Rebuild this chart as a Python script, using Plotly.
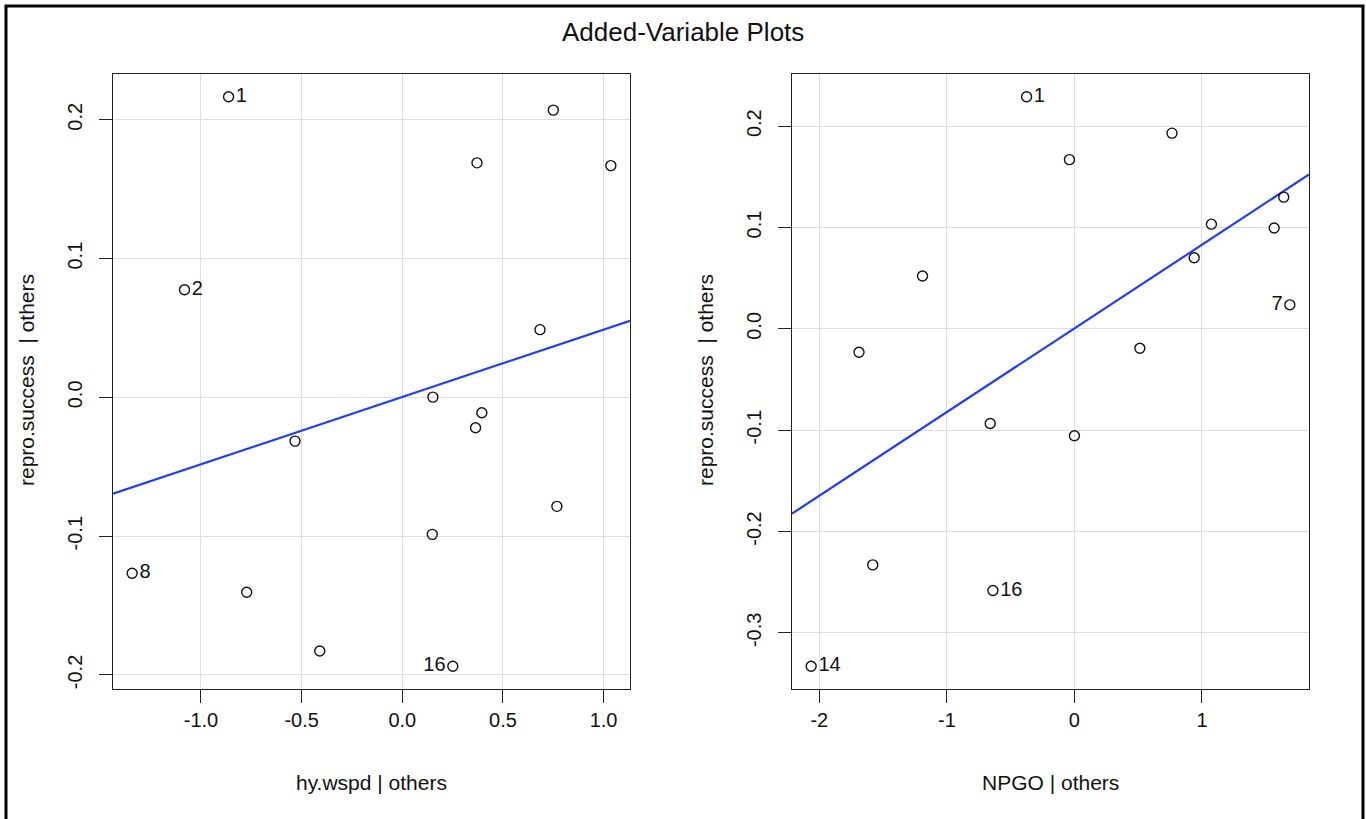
import numpy as np
import plotly.graph_objects as go

# ---------------- data ----------------
# Left panel: hy.wspd | others  vs  repro.success | others
hy_wspd_resid = [-0.863, -1.082, -1.342, 0.750, 0.371, 1.036, 0.684, 0.152,
                 0.395, 0.364, -0.533, 0.768, 0.149, -0.773, -0.410, 0.251]
repro_resid_left = [0.2166, 0.0776, -0.1267, 0.207, 0.169, 0.167, 0.0488, 0.0002,
                    -0.0111, -0.0219, -0.0315, -0.0785, -0.0987, -0.1404, -0.1827, -0.1937]
labels_left = ["1", "2", "8", "", "", "", "", "", "", "", "", "", "", "", "", "16"]

# Right panel: NPGO | others  vs  repro.success | others
npgo_resid = [-0.375, 0.765, -0.039, 1.641, 1.074, 1.566, 0.939, -1.191,
              1.689, -1.689, 0.513, -0.660, 0.000, -1.581, -0.639, -2.064]
repro_resid_right = [0.229, 0.1931, 0.167, 0.130, 0.1033, 0.0995, 0.0702, 0.0522,
                     0.0237, -0.0231, -0.0191, -0.0934, -0.1055, -0.2329, -0.2582, -0.3329]
labels_right = ["1", "", "", "", "", "", "", "", "7", "", "", "", "", "", "16", "14"]

# tick values / labels
left_xticks = [-1.0, -0.5, 0.0, 0.5, 1.0]
left_xticktext = ["-1.0", "-0.5", "0.0", "0.5", "1.0"]
left_yticks = [-0.2, -0.1, 0.0, 0.1, 0.2]
left_yticktext = ["-0.2", "-0.1", "0.0", "0.1", "0.2"]
right_xticks = [-2, -1, 0, 1]
right_xticktext = ["-2", "-1", "0", "1"]
right_yticks = [-0.3, -0.2, -0.1, 0.0, 0.1, 0.2]
right_yticktext = ["-0.3", "-0.2", "-0.1", "0.0", "0.1", "0.2"]

title_text = "Added-Variable Plots"
xlab_left = "hy.wspd | others"
xlab_right = "NPGO | others"
ylab = "repro.success  | others"

# label sides (style)
side_left = {"1": "middle right", "2": "middle right", "8": "middle right", "16": "middle left"}
side_right = {"1": "middle right", "7": "middle left", "16": "middle right", "14": "middle right"}

# ---------------- helpers ----------------
W, H = 1366, 819
FONT = "Liberation Sans, Arial, Helvetica, sans-serif"
TICK_FS = 20
LAB_FS = 21


def r_range(v):
    v = np.asarray(v, dtype=float)
    lo, hi = v.min(), v.max()
    d = (hi - lo) * 0.04
    return [lo - d, hi + d]


def px_x(p):
    return p / W


def px_y(p):
    return 1 - p / H


fig = go.Figure()

panels = [
    (hy_wspd_resid, repro_resid_left, labels_left, side_left, "x", "y"),
    (npgo_resid, repro_resid_right, labels_right, side_right, "x2", "y2"),
]

for xs, ys, labs, sides, xa, ya in panels:
    xr = r_range(xs)
    # least-squares line (as in the added-variable plot)
    slope, intercept = np.polyfit(xs, ys, 1)
    lx = np.array(xr)
    fig.add_trace(go.Scatter(
        x=lx, y=slope * lx + intercept, mode="lines",
        line=dict(color="#1e3cff", width=2.2),
        xaxis=xa, yaxis=ya, hoverinfo="skip", showlegend=False))
    fig.add_trace(go.Scatter(
        x=xs, y=ys, mode="markers+text",
        text=labs,
        textposition=[sides.get(l, "middle right") for l in labs],
        textfont=dict(family=FONT, size=TICK_FS, color="#111"),
        marker=dict(symbol="circle-open", size=10, color="#111",
                    line=dict(width=1.4, color="#111")),
        xaxis=xa, yaxis=ya, showlegend=False, cliponaxis=False))

ax_common = dict(
    showline=True, linecolor="#222", linewidth=1.4, mirror=True,
    ticks="outside", ticklen=13, tickwidth=1.2, tickcolor="#222",
    showgrid=True, gridcolor="#dedede", gridwidth=1,
    zeroline=False,
    tickfont=dict(family=FONT, size=TICK_FS, color="#111"),
    tickmode="array",
)

ydom = [px_y(689), px_y(74)]

fig.update_layout(
    width=W, height=H,
    margin=dict(l=0, r=0, t=0, b=0),
    paper_bgcolor="white", plot_bgcolor="white",
    showlegend=False,
    xaxis=dict(domain=[px_x(113), px_x(630)], anchor="y",
               range=r_range(hy_wspd_resid),
               tickvals=left_xticks, ticktext=left_xticktext, **ax_common),
    yaxis=dict(domain=ydom, anchor="x",
               range=r_range(repro_resid_left),
               tickvals=left_yticks, ticktext=left_yticktext,
               tickangle=-90, ticklabelstandoff=9, **ax_common),
    xaxis2=dict(domain=[px_x(792), px_x(1309)], anchor="y2",
                range=r_range(npgo_resid),
                tickvals=right_xticks, ticktext=right_xticktext, **ax_common),
    yaxis2=dict(domain=ydom, anchor="x2",
                range=r_range(repro_resid_right),
                tickvals=right_yticks, ticktext=right_yticktext,
                tickangle=-90, ticklabelstandoff=9, **ax_common),
)

ann = [
    dict(text=title_text, x=0.5, y=px_y(32), font=dict(size=26)),
    dict(text=xlab_left, x=px_x((113 + 630) / 2), y=px_y(782), font=dict(size=LAB_FS)),
    dict(text=xlab_right, x=px_x((792 + 1309) / 2), y=px_y(782), font=dict(size=LAB_FS)),
    dict(text=ylab, x=px_x(26), y=px_y(380), textangle=-90, font=dict(size=LAB_FS)),
    dict(text=ylab, x=px_x(705), y=px_y(380), textangle=-90, font=dict(size=LAB_FS)),
]
for a in ann:
    a["font"].update(family=FONT, color="#111")
    fig.add_annotation(xref="paper", yref="paper", showarrow=False,
                       xanchor="center", yanchor="middle", **a)

# outer frame
fig.add_shape(type="rect", xref="paper", yref="paper",
              x0=px_x(6), x1=px_x(1363), y0=-0.05, y1=px_y(6),
              line=dict(color="black", width=3), fillcolor="rgba(0,0,0,0)")

fig.write_html("out.html")
